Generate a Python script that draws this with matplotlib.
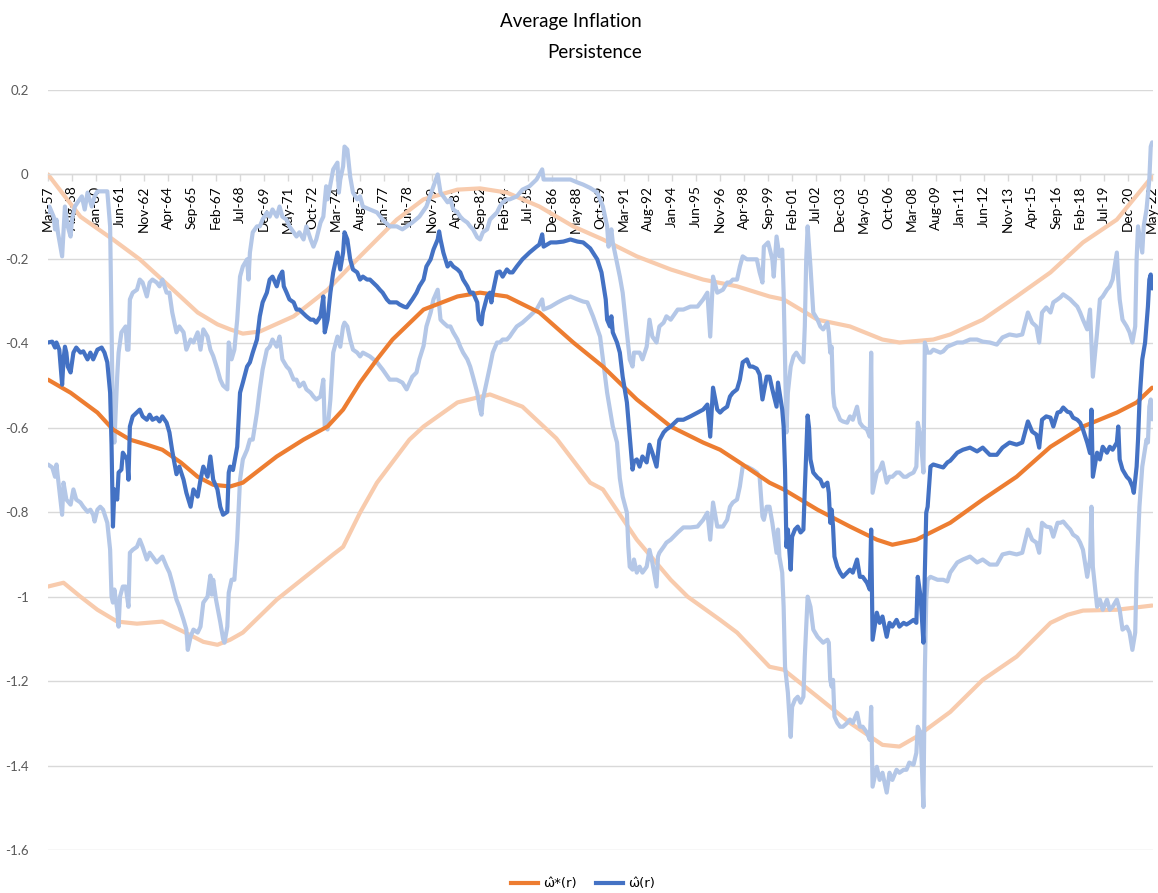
import numpy as np
import pandas as pd
import matplotlib
matplotlib.use("Agg")
import matplotlib.pyplot as plt
from matplotlib.lines import Line2D

# ---------------- data (month index 0 = Mar-1957, 782 = May-2022) ----------------
n_months = 783
start_month = "1957-03"
tick_step = 17

# omega_hat_star(r): smooth central estimate
star_mid = [(0,-0.486),(16,-0.517),(35,-0.564),(46,-0.604),(58,-0.628),(70,-0.640),(81,-0.652),
            (94,-0.682),(106,-0.716),(117,-0.735),(129,-0.739),(138,-0.730),(150,-0.699),(162,-0.668),
            (181,-0.628),(198,-0.597),(209,-0.557),(221,-0.493),(233,-0.438),(244,-0.391),(266,-0.320),
            (290,-0.289),(306,-0.280),(325,-0.289),(348,-0.327),(372,-0.398),(393,-0.455),(417,-0.533),
            (441,-0.597),(464,-0.635),(476,-0.652),(492,-0.687),(511,-0.730),(521,-0.746),(545,-0.794),
            (568,-0.834),(587,-0.865),(598,-0.877),(615,-0.865),(639,-0.825),(662,-0.770),(686,-0.716),
            (710,-0.645),(733,-0.597),(757,-0.564),(771,-0.540),(782,-0.505)]

star_upper = [(0,0.000),(23,-0.100),(46,-0.154),(65,-0.201),(86,-0.265),(106,-0.327),(120,-0.355),
              (129,-0.367),(138,-0.377),(150,-0.372),(174,-0.336),(198,-0.273),(221,-0.194),(247,-0.107),
              (266,-0.059),(290,-0.036),(306,-0.033),(325,-0.043),(348,-0.076),(372,-0.123),(393,-0.154),
              (417,-0.194),(441,-0.225),(464,-0.249),(488,-0.265),(511,-0.289),(521,-0.296),(545,-0.344),
              (568,-0.360),(591,-0.391),(603,-0.398),(627,-0.391),(639,-0.379),(662,-0.344),(686,-0.289),
              (710,-0.232),(733,-0.161),(757,-0.107),(782,-0.005)]

star_lower = [(0,-0.976),(11,-0.967),(23,-1.000),(35,-1.031),(49,-1.059),(63,-1.064),(81,-1.059),
              (96,-1.083),(110,-1.107),(120,-1.114),(129,-1.102),(138,-1.085),(162,-1.007),(186,-0.943),
              (202,-0.900),(209,-0.882),(221,-0.801),(233,-0.730),(256,-0.628),(266,-0.597),(290,-0.540),
              (313,-0.521),(336,-0.550),(360,-0.625),(384,-0.730),(393,-0.746),(417,-0.865),(441,-0.960),
              (453,-1.000),(476,-1.055),(488,-1.085),(511,-1.166),(521,-1.173),(545,-1.237),(568,-1.299),
              (591,-1.351),(603,-1.355),(615,-1.332),(639,-1.273),(662,-1.197),(686,-1.142),(710,-1.062),
              (722,-1.043),(733,-1.033),(757,-1.031),(782,-1.021)]

# omega_hat(r): noisy estimate
omega = [(0,-0.398),(3,-0.396),(5,-0.410),(6,-0.398),(8,-0.415),(10,-0.498),(11,-0.438),(12,-0.408),
         (13,-0.422),(14,-0.455),(16,-0.469),(18,-0.422),(20,-0.410),(23,-0.422),(25,-0.419),(28,-0.438),
         (30,-0.422),(32,-0.438),(35,-0.415),(38,-0.410),(40,-0.422),(42,-0.445),(44,-0.517),(45,-0.640),
         (46,-0.834),(47,-0.746),(49,-0.770),(50,-0.706),(52,-0.699),(53,-0.659),(56,-0.675),(57,-0.723),
         (58,-0.597),(60,-0.573),(65,-0.557),(67,-0.573),(70,-0.581),(72,-0.569),(74,-0.581),(77,-0.576),
         (79,-0.585),(81,-0.573),(84,-0.588),(86,-0.611),(88,-0.655),(91,-0.710),(93,-0.692),(96,-0.723),
         (98,-0.754),(101,-0.787),(103,-0.746),(106,-0.763),(108,-0.723),(110,-0.692),(113,-0.716),
         (115,-0.668),(117,-0.723),(120,-0.746),(122,-0.787),(124,-0.806),(127,-0.799),(128,-0.706),
         (129,-0.692),(131,-0.700),(134,-0.645),(136,-0.517),(138,-0.493),(141,-0.455),(143,-0.445),
         (145,-0.422),(148,-0.391),(150,-0.336),(152,-0.303),(155,-0.280),(157,-0.249),(159,-0.242),
         (162,-0.265),(164,-0.242),(166,-0.230),(167,-0.265),(169,-0.280),(171,-0.296),(174,-0.303),
         (176,-0.320),(178,-0.320),(183,-0.336),(186,-0.344),(188,-0.344),(190,-0.351),(193,-0.336),
         (195,-0.289),(196,-0.374),(198,-0.344),(200,-0.280),(202,-0.232),(205,-0.185),(207,-0.225),
         (209,-0.185),(210,-0.137),(212,-0.154),(214,-0.201),(216,-0.225),(219,-0.232),(221,-0.249),
         (223,-0.242),(226,-0.249),(228,-0.249),(233,-0.265),(235,-0.273),(237,-0.280),(240,-0.296),
         (242,-0.303),(247,-0.303),(249,-0.308),(252,-0.313),(254,-0.315),(258,-0.296),(261,-0.280),
         (263,-0.265),(266,-0.249),(268,-0.218),(271,-0.201),(273,-0.178),(276,-0.154),(277,-0.135),
         (278,-0.154),(280,-0.185),(283,-0.218),(285,-0.209),(287,-0.218),(290,-0.225),(292,-0.232),
         (294,-0.249),(297,-0.265),(299,-0.280),(301,-0.280),(304,-0.303),(305,-0.344),(307,-0.355),
         (308,-0.327),(311,-0.289),(313,-0.280),(314,-0.303),(315,-0.280),(318,-0.232),(320,-0.230),
         (322,-0.242),(325,-0.225),(327,-0.232),(329,-0.232),(332,-0.218),(336,-0.201),(341,-0.185),
         (346,-0.171),(348,-0.166),(350,-0.142),(351,-0.171),(356,-0.161),(360,-0.161),(365,-0.159),
         (370,-0.154),(375,-0.159),(379,-0.161),(384,-0.175),(389,-0.201),(392,-0.232),(395,-0.296),
         (396,-0.344),(398,-0.360),(399,-0.336),(400,-0.374),(403,-0.398),(405,-0.422),(407,-0.479),
         (410,-0.540),(412,-0.621),(414,-0.699),(415,-0.680),(417,-0.675),(419,-0.692),(421,-0.668),
         (424,-0.682),(426,-0.640),(428,-0.659),(431,-0.692),(433,-0.630),(436,-0.611),(438,-0.604),
         (441,-0.597),(446,-0.581),(450,-0.581),(455,-0.573),(460,-0.564),(464,-0.557),(467,-0.545),
         (469,-0.621),(471,-0.505),(474,-0.557),(476,-0.564),(478,-0.557),(481,-0.550),(483,-0.526),
         (485,-0.517),(488,-0.509),(490,-0.486),(492,-0.445),(495,-0.438),(497,-0.455),(499,-0.455),
         (502,-0.460),(504,-0.474),(506,-0.533),(509,-0.479),(511,-0.479),(513,-0.509),(516,-0.550),
         (517,-0.493),(520,-0.557),(521,-0.597),(522,-0.700),(523,-0.882),(524,-0.841),(526,-0.936),
         (527,-0.858),(529,-0.841),(531,-0.834),(533,-0.848),(535,-0.841),(536,-0.746),(538,-0.571),
         (539,-0.600),(540,-0.675),(542,-0.706),(545,-0.718),(547,-0.723),(549,-0.739),(552,-0.730),
         (553,-0.754),(554,-0.825),(555,-0.794),(556,-0.834),(557,-0.905),(559,-0.929),(561,-0.943),
         (563,-0.953),(566,-0.943),(568,-0.936),(570,-0.943),(573,-0.912),(575,-0.953),(577,-0.953),
         (580,-0.967),(582,-0.983),(583,-0.841),(584,-1.102),(587,-1.038),(589,-1.062),(591,-1.047),
         (594,-1.095),(596,-1.062),(598,-1.071),(601,-1.055),(603,-1.071),(606,-1.062),(608,-1.066),
         (610,-1.062),(613,-1.055),(615,-1.062),(616,-0.953),(618,-1.000),(620,-1.109),(621,-0.943),
         (622,-0.801),(623,-0.787),(625,-0.692),(627,-0.687),(632,-0.692),(634,-0.694),(637,-0.682),
         (639,-0.678),(644,-0.659),(648,-0.652),(653,-0.647),(658,-0.656),(662,-0.647),(667,-0.664),
         (672,-0.664),(676,-0.647),(681,-0.635),(686,-0.640),(690,-0.635),(694,-0.585),(697,-0.609),
         (700,-0.616),(702,-0.647),(704,-0.581),(707,-0.573),(710,-0.576),(712,-0.597),(715,-0.564),
         (717,-0.562),(719,-0.552),(722,-0.562),(724,-0.564),(726,-0.576),(729,-0.581),(731,-0.588),
         (733,-0.604),(736,-0.635),(738,-0.660),(739,-0.557),(740,-0.716),(743,-0.659),(745,-0.675),
         (747,-0.645),(750,-0.659),(752,-0.645),(754,-0.652),(757,-0.635),(758,-0.597),(759,-0.675),
         (761,-0.699),(764,-0.716),(766,-0.723),(768,-0.739),(769,-0.754),(771,-0.692),(772,-0.628),
         (773,-0.540),(775,-0.438),(777,-0.398),(779,-0.313),(780,-0.249),(781,-0.237),(782,-0.270)]

omega_upper = [(0,-0.090),(1,-0.076),(4,-0.100),(5,-0.130),(6,-0.107),(7,-0.137),(10,-0.194),(11,-0.137),
               (12,-0.076),(13,-0.100),(14,-0.123),(16,-0.147),(17,-0.107),(19,-0.076),(21,-0.066),
               (24,-0.052),(26,-0.083),(28,-0.043),(31,-0.076),(33,-0.052),(35,-0.040),(39,-0.040),
               (42,-0.040),(44,-0.123),(45,-0.360),(46,-0.597),(47,-0.635),(49,-0.479),(50,-0.422),
               (52,-0.374),(55,-0.360),(56,-0.415),(57,-0.415),(58,-0.296),(60,-0.280),(63,-0.273),
               (65,-0.249),(67,-0.256),(70,-0.289),(72,-0.256),(74,-0.249),(77,-0.256),(79,-0.265),
               (81,-0.249),(84,-0.280),(86,-0.280),(88,-0.327),(91,-0.374),(93,-0.360),(96,-0.374),
               (98,-0.415),(101,-0.391),(103,-0.398),(106,-0.374),(108,-0.415),(110,-0.367),(113,-0.384),
               (115,-0.415),(117,-0.430),(120,-0.462),(122,-0.486),(124,-0.500),(127,-0.509),(128,-0.398),
               (130,-0.438),(132,-0.415),(134,-0.344),(136,-0.242),(138,-0.218),(141,-0.201),(142,-0.249),
               (143,-0.185),(145,-0.137),(148,-0.123),(150,-0.123),(152,-0.107),(155,-0.090),(157,-0.100),
               (159,-0.083),(162,-0.100),(164,-0.076),(166,-0.100),(169,-0.107),(171,-0.123),(174,-0.137),
               (176,-0.147),(178,-0.137),(181,-0.154),(183,-0.123),(186,-0.154),(188,-0.171),(190,-0.154),
               (193,-0.114),(195,-0.100),(197,-0.028),(198,-0.059),(202,0.012),(205,0.028),(206,-0.043),
               (207,-0.012),(209,0.019),(210,0.066),(212,0.059),(214,-0.005),(216,-0.043),(219,-0.059),
               (221,-0.052),(223,-0.076),(228,-0.083),(233,-0.090),(237,-0.107),(242,-0.123),(247,-0.123),
               (251,-0.130),(254,-0.123),(258,-0.114),(263,-0.100),(268,-0.076),(273,-0.028),(276,0.000),
               (278,-0.043),(280,-0.052),(283,-0.066),(285,-0.059),(287,-0.083),(290,-0.090),(292,-0.100),
               (294,-0.107),(297,-0.114),(299,-0.123),(301,-0.130),(304,-0.149),(306,-0.154),(308,-0.137),
               (311,-0.130),(313,-0.107),(315,-0.100),(318,-0.090),(320,-0.076),(322,-0.066),(325,-0.059),
               (327,-0.059),(332,-0.052),(336,-0.036),(341,-0.028),(346,-0.012),(350,0.012),(351,-0.012),
               (356,-0.012),(361,-0.012),(365,-0.012),(370,-0.012),(375,-0.019),(379,-0.024),(384,-0.032),
               (389,-0.043),(393,-0.076),(396,-0.123),(397,-0.171),(399,-0.130),(400,-0.161),(403,-0.209),
               (405,-0.242),(407,-0.280),(410,-0.374),(412,-0.438),(414,-0.455),(415,-0.422),(417,-0.422),
               (419,-0.422),(421,-0.438),(424,-0.408),(426,-0.344),(428,-0.384),(431,-0.398),(433,-0.360),
               (436,-0.351),(438,-0.336),(441,-0.344),(446,-0.320),(450,-0.320),(455,-0.313),(460,-0.313),
               (464,-0.296),(467,-0.280),(469,-0.384),(471,-0.242),(474,-0.280),(478,-0.273),(481,-0.256),
               (483,-0.256),(485,-0.249),(488,-0.249),(490,-0.218),(492,-0.194),(495,-0.201),(499,-0.201),
               (502,-0.201),(504,-0.232),(506,-0.256),(507,-0.171),(510,-0.161),(513,-0.201),(514,-0.242),
               (516,-0.147),(518,-0.194),(520,-0.178),(521,-0.280),(522,-0.438),(523,-0.611),(524,-0.517),
               (526,-0.455),(528,-0.431),(530,-0.422),(533,-0.438),(535,-0.445),(536,-0.360),(537,-0.201),
               (538,-0.123),(540,-0.218),(542,-0.327),(545,-0.344),(547,-0.360),(549,-0.367),(552,-0.351),
               (553,-0.374),(554,-0.422),(555,-0.408),(556,-0.517),(557,-0.550),(559,-0.564),(561,-0.581),
               (563,-0.585),(566,-0.588),(568,-0.573),(570,-0.581),(573,-0.550),(575,-0.588),(577,-0.597),
               (580,-0.604),(582,-0.621),(583,-0.422),(584,-0.754),(587,-0.706),(589,-0.699),(591,-0.682),
               (594,-0.730),(596,-0.716),(598,-0.716),(601,-0.706),(603,-0.706),(606,-0.716),(608,-0.716),
               (610,-0.711),(613,-0.706),(615,-0.692),(616,-0.588),(618,-0.621),(620,-0.706),(621,-0.398),
               (623,-0.422),(625,-0.422),(627,-0.415),(632,-0.422),(634,-0.419),(637,-0.408),(639,-0.405),
               (644,-0.398),(648,-0.398),(653,-0.391),(658,-0.391),(662,-0.396),(667,-0.398),(672,-0.403),
               (676,-0.386),(681,-0.379),(686,-0.382),(690,-0.379),(694,-0.327),(697,-0.351),(700,-0.360),
               (702,-0.398),(704,-0.327),(707,-0.315),(710,-0.327),(712,-0.303),(715,-0.296),(717,-0.291),
               (719,-0.284),(722,-0.291),(724,-0.296),(726,-0.303),(729,-0.313),(731,-0.327),(733,-0.344),
               (736,-0.367),(738,-0.320),(740,-0.479),(743,-0.374),(745,-0.296),(747,-0.289),(750,-0.273),
               (752,-0.265),(754,-0.249),(757,-0.185),(758,-0.249),(759,-0.296),(761,-0.344),(764,-0.360),
               (766,-0.374),(768,-0.398),(770,-0.360),(771,-0.201),(772,-0.123),(775,-0.185),(776,-0.123),
               (778,-0.083),(780,-0.012),(781,0.066),(782,0.076)]

omega_lower = [(0,-0.687),(3,-0.694),(5,-0.716),(6,-0.687),(8,-0.746),(10,-0.806),(11,-0.730),(13,-0.770),
               (16,-0.782),(18,-0.746),(20,-0.770),(23,-0.777),(25,-0.787),(28,-0.799),(30,-0.794),
               (32,-0.806),(33,-0.822),(35,-0.794),(37,-0.787),(39,-0.794),(42,-0.825),(44,-0.889),
               (45,-1.000),(46,-1.014),(47,-0.983),(49,-1.031),(50,-1.071),(51,-1.000),(53,-0.976),
               (55,-0.976),(57,-1.024),(58,-0.896),(60,-0.889),(63,-0.882),(65,-0.865),(67,-0.882),
               (70,-0.912),(72,-0.896),(74,-0.905),(77,-0.919),(79,-0.912),(81,-0.905),(84,-0.929),
               (86,-0.943),(88,-0.967),(91,-1.007),(93,-1.024),(96,-1.055),(98,-1.078),(99,-1.126),
               (101,-1.095),(103,-1.078),(106,-1.085),(108,-1.071),(110,-1.014),(113,-1.000),(115,-0.950),
               (116,-0.995),(117,-0.960),(119,-1.007),(122,-1.060),(124,-1.100),(125,-1.109),(127,-1.071),
               (128,-0.991),(130,-0.960),(132,-0.960),(134,-0.865),(136,-0.723),(138,-0.675),(141,-0.652),
               (143,-0.628),(145,-0.628),(148,-0.564),(150,-0.509),(152,-0.462),(155,-0.415),(157,-0.408),
               (159,-0.391),(162,-0.408),(164,-0.384),(166,-0.438),(169,-0.455),(171,-0.462),(174,-0.486),
               (176,-0.486),(178,-0.502),(181,-0.493),(183,-0.509),(186,-0.517),(188,-0.526),(190,-0.533),
               (193,-0.526),(195,-0.486),(196,-0.597),(198,-0.604),(200,-0.533),(202,-0.422),(205,-0.384),
               (207,-0.408),(209,-0.360),(210,-0.351),(212,-0.360),(214,-0.391),(216,-0.415),(219,-0.422),
               (221,-0.431),(223,-0.422),(228,-0.431),(233,-0.445),(237,-0.462),(242,-0.486),(247,-0.486),
               (251,-0.493),(254,-0.509),(258,-0.479),(261,-0.469),(263,-0.438),(266,-0.406),(268,-0.360),
               (271,-0.327),(273,-0.296),(276,-0.273),(278,-0.344),(280,-0.351),(283,-0.360),(285,-0.360),
               (287,-0.374),(290,-0.391),(292,-0.408),(294,-0.422),(297,-0.438),(299,-0.455),(301,-0.479),
               (304,-0.517),(306,-0.557),(307,-0.569),(308,-0.533),(311,-0.486),(313,-0.455),(315,-0.422),
               (318,-0.398),(320,-0.398),(322,-0.391),(325,-0.391),(327,-0.384),(329,-0.374),(332,-0.360),
               (336,-0.351),(341,-0.336),(346,-0.320),(350,-0.296),(351,-0.320),(356,-0.313),(361,-0.303),
               (365,-0.296),(370,-0.289),(375,-0.296),(379,-0.301),(382,-0.303),(386,-0.336),(391,-0.384),
               (393,-0.438),(396,-0.517),(398,-0.557),(400,-0.597),(403,-0.635),(405,-0.720),(407,-0.763),
               (410,-0.801),(411,-0.882),(412,-0.929),(414,-0.936),(415,-0.912),(417,-0.943),(419,-0.929),
               (421,-0.943),(424,-0.929),(426,-0.889),(428,-0.919),(431,-0.976),(432,-0.905),(433,-0.896),
               (436,-0.882),(438,-0.872),(441,-0.865),(446,-0.848),(450,-0.836),(455,-0.836),(460,-0.834),
               (464,-0.818),(467,-0.801),(469,-0.865),(471,-0.777),(474,-0.834),(478,-0.834),(481,-0.818),
               (483,-0.787),(485,-0.777),(488,-0.770),(490,-0.739),(492,-0.692),(495,-0.692),(499,-0.699),
               (502,-0.706),(504,-0.716),(506,-0.810),(507,-0.818),(509,-0.787),(511,-0.787),(513,-0.825),
               (516,-0.896),(517,-0.841),(518,-0.905),(520,-0.943),(521,-1.024),(522,-1.166),(524,-1.227),
               (526,-1.332),(527,-1.261),(529,-1.244),(531,-1.237),(533,-1.251),(535,-1.237),(536,-1.142),
               (538,-1.000),(540,-1.024),(542,-1.078),(545,-1.095),(547,-1.102),(549,-1.109),(552,-1.102),
               (553,-1.109),(554,-1.197),(555,-1.213),(556,-1.197),(557,-1.284),(559,-1.299),(561,-1.308),
               (563,-1.308),(566,-1.299),(568,-1.291),(570,-1.299),(573,-1.275),(575,-1.308),(577,-1.308),
               (580,-1.322),(582,-1.339),(583,-1.261),(584,-1.450),(587,-1.403),(589,-1.434),(591,-1.417),
               (594,-1.464),(596,-1.417),(598,-1.434),(601,-1.410),(603,-1.417),(606,-1.410),(608,-1.410),
               (610,-1.393),(613,-1.398),(615,-1.370),(616,-1.308),(618,-1.322),(620,-1.498),(621,-1.180),
               (622,-1.007),(623,-0.960),(625,-0.953),(630,-0.960),(634,-0.960),(637,-0.964),(639,-0.943),
               (644,-0.919),(648,-0.912),(653,-0.905),(658,-0.919),(662,-0.912),(667,-0.924),(672,-0.924),
               (676,-0.900),(681,-0.896),(686,-0.900),(690,-0.896),(694,-0.841),(697,-0.865),(700,-0.872),
               (702,-0.896),(704,-0.825),(707,-0.834),(710,-0.836),(712,-0.858),(715,-0.825),(717,-0.825),
               (719,-0.822),(722,-0.834),(724,-0.841),(726,-0.853),(729,-0.860),(731,-0.872),(733,-0.889),
               (736,-0.953),(738,-0.912),(739,-0.787),(740,-0.929),(743,-1.024),(745,-1.007),(747,-1.031),
               (750,-1.007),(752,-1.031),(754,-1.024),(757,-1.007),(759,-1.031),(761,-1.078),(764,-1.071),
               (766,-1.085),(768,-1.126),(770,-1.085),(771,-0.943),(773,-0.787),(775,-0.692),(778,-0.628),
               (779,-0.635),(780,-0.550),(781,-0.533),(782,-0.580)]

y_ticks = [0.2, 0.0, -0.2, -0.4, -0.6, -0.8, -1.0, -1.2, -1.4, -1.6]
y_tick_labels = ["0.2", "0", "-0.2", "-0.4", "-0.6", "-0.8", "-1", "-1.2", "-1.4", "-1.6"]
title_lines = ["Average Inflation", "Persistence"]
legend_labels = ["\u03c9\u0302*(r)", "\u03c9\u0302(r)"]

# ---------------- style ----------------
C_ORANGE = "#ED7D31"
C_ORANGE_L = "#F8CBAD"
C_BLUE = "#4472C4"
C_BLUE_L = "#B4C7E7"
GRID = "#D9D9D9"
TXT = "#595959"
FONT = ["Lato", "DejaVu Sans"]

plt.rcParams["font.family"] = FONT

W, H = 1158, 893
fig = plt.figure(figsize=(W / 100, H / 100), dpi=100)
ax = fig.add_axes([48 / W, 1 - 850 / H, 1105 / W, 760 / H])
ax.set_xlim(0, 782.6)
ax.set_ylim(-1.6, 0.2)

def unzip(pairs):
    a = np.array(pairs, dtype=float)
    return a[:, 0], a[:, 1]

lw = 3.0
for ser, col, z in [(star_upper, C_ORANGE_L, 2), (star_lower, C_ORANGE_L, 2),
                    (omega_upper, C_BLUE_L, 3), (omega_lower, C_BLUE_L, 3),
                    (star_mid, C_ORANGE, 4), (omega, C_BLUE, 5)]:
    x, y = unzip(ser)
    ax.plot(x, y, color=col, lw=lw, zorder=z, solid_joinstyle="round", solid_capstyle="round")

# grid
ax.set_yticks(y_ticks)
ax.set_yticklabels(y_tick_labels)
ax.yaxis.grid(True, color=GRID, lw=1.0, zorder=0)
ax.set_axisbelow(True)
ax.tick_params(axis="y", length=0, pad=14, labelsize=9.5, labelcolor=TXT)
for s in ["top", "right", "left"]:
    ax.spines[s].set_visible(False)
ax.spines["bottom"].set_position(("data", 0))
ax.spines["bottom"].set_color(GRID)
ax.spines["bottom"].set_linewidth(1.0)

# category axis
dates = pd.date_range(start_month, periods=n_months, freq="MS")
cat_labels = [d.strftime("%b-%y") for d in dates]
tick_pos = list(range(0, n_months, tick_step))
ax.set_xticks(tick_pos)
ax.set_xticklabels([cat_labels[i] for i in tick_pos], rotation=90, va="top", ha="center")
ax.tick_params(axis="x", direction="out", length=5, width=1.0, color=GRID,
               pad=3, labelsize=9.8, labelcolor="#000000")

# title
fig.text(571 / W, 1 - 21 / H, title_lines[0], ha="center", va="center", fontsize=13.5, color="#000000")
fig.text(595 / W, 1 - 52 / H, title_lines[1], ha="center", va="center", fontsize=13.5, color="#000000")

# legend
handles = [Line2D([], [], color=C_ORANGE, lw=lw), Line2D([], [], color=C_BLUE, lw=lw)]
fig.legend(handles, legend_labels, loc="center", bbox_to_anchor=(583 / W, 1 - 884 / H), ncol=2,
           frameon=False, handlelength=2.0, columnspacing=1.5, handletextpad=0.4,
           prop={"family": ["DejaVu Sans"], "size": 9.5})

fig.savefig("out.png", dpi=100)
